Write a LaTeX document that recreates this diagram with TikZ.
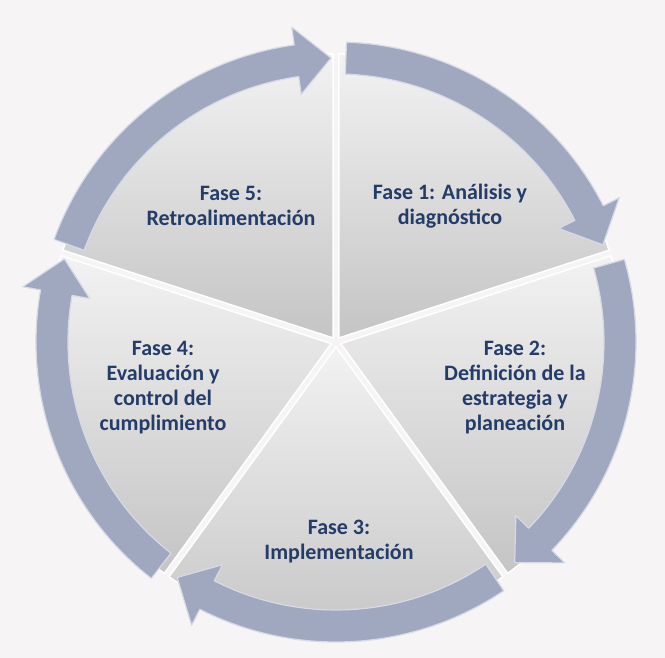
\documentclass[tikz,border=0pt]{standalone}
\usepackage{fontspec}
\setmainfont{Carlito}
\usepackage{tikz}
\definecolor{fasetext}{RGB}{36,60,104}
\definecolor{ringfill}{RGB}{160,168,192}
\definecolor{ringedge}{RGB}{214,218,230}
\definecolor{backgr}{RGB}{246,244,244}

\begin{document}
\begin{tikzpicture}[x=1pt,y=1pt,
    slice/.style={top color=black!5,bottom color=black!23,draw=white,line width=1.5pt},
    ring/.style={fill=ringfill,draw=ringedge,line width=1.2pt,line join=round},
    fase/.style={text=fasetext,align=center,font=\fontsize{22}{25}\selectfont\bfseries}]
    \fill[backgr] (-336,-316) rectangle (329,342);
    \useasboundingbox (-336,-316) rectangle (329,342);
    \foreach \b in {90,18,-54,-126,-198}{
        \begin{scope}[shift={({\b-36}:5)}]
            \draw[slice] (0,0) -- (\b:284) arc[start angle=\b, end angle=\b-72, radius=284] -- cycle;
        \end{scope}
    }
    \foreach \aS/\aT in {160/91,88/20,16/-51,-56/-124,-128/-197}{
        \draw[ring] (\aS:268) arc[start angle=\aS, end angle=\aT+7, radius=268]
            -- ({\aT+7}:250) -- (\aT:284) -- ({\aT+7}:318) -- ({\aT+7}:300)
            arc[start angle=\aT+7, end angle=\aS, radius=300] -- cycle;
    }
    \node[fase] (f5) at (-105,136) {Fase 5:\\Retroalimentación};
    \node[fase] (f1) at (114,136) {Fase 1: Análisis y\\diagnóstico};
    \node[fase] (f2) at (179,-46) {Fase 2:\\Definición de la\\estrategia y\\planeación};
    \node[fase] (f3) at (3,-200) {Fase 3:\\Implementación};
    \node[fase] (f4) at (-173,-46) {Fase 4:\\Evaluación y\\control del\\cumplimiento};
\end{tikzpicture}
\end{document}
